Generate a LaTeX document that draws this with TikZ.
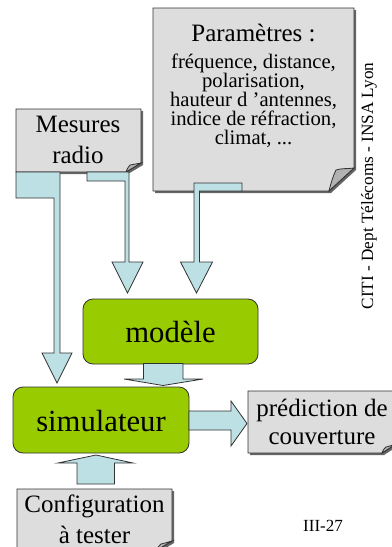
\documentclass[tikz,border=0pt]{standalone}
\usepackage{fontspec}
\setmainfont{Liberation Serif}
\definecolor{notegray}{RGB}{221,221,221}
\definecolor{foldgray}{RGB}{178,178,178}
\definecolor{arrowcyan}{RGB}{188,224,228}
\definecolor{greenbox}{RGB}{153,204,0}
\definecolor{edgec}{RGB}{50,50,50}
\begin{document}
\begin{tikzpicture}[x=0.75pt,y=-0.75pt,
  note/.style={fill=notegray,draw=edgec,line width=0.6pt},
  foldpart/.style={fill=foldgray,draw=edgec,line width=0.6pt},
  noteshadow/.style={fill=black!60,draw=none},
  blockarrow/.style={fill=arrowcyan,draw=edgec,line width=0.6pt,line join=miter},
  gbox/.style={fill=greenbox,draw=edgec,line width=0.6pt,rounded corners=7.5pt,inner sep=0pt},
  bigtxt/.style={font=\fontsize{23}{27}\selectfont},
  medtxt/.style={align=center,font=\fontsize{18.75}{23.25}\selectfont,inner sep=0pt},
  smalltxt/.style={align=center,font=\fontsize{15.5}{14.25}\selectfont,inner sep=0pt}]
\useasboundingbox (0,0) rectangle (392,547);
\clip (0,0) rectangle (392,547);

% ---------- Mesures radio ----------
\fill[noteshadow] (18,111) -- (143,111) -- (143,165) -- (128,174) -- (18,174) -- cycle;
\draw[note] (16,109) -- (141,109) -- (141,163) -- (126,172) -- (16,172) -- cycle;
\draw[foldpart] (141,163) -- (126,172) .. controls (127,169) .. (130,165) .. controls (135,164) .. cycle;
\node[medtxt] (mesures) at (78,139.5) {Mesures\\radio};

% ---------- Parametres ----------
\fill[noteshadow] (155,10) -- (356,10) -- (356,170) -- (331,193) -- (155,193) -- cycle;
\draw[note] (153,8) -- (354,8) -- (354,168) -- (329,191) -- (153,191) -- cycle;
\draw[foldpart] (354,168) -- (329,191) .. controls (331,183) and (333,176) .. (336,170) .. controls (342,168) and (348,169) .. cycle;
\node[medtxt] (parhead) at (253.5,33) {Paramètres :};
\node[smalltxt] (parbody) at (253.5,100.5) {fréquence, distance,\\polarisation,\\hauteur d ’antennes,\\indice de réfraction,\\climat, ...};

% ---------- arrows from top notes ----------
\draw[blockarrow] (16,172) -- (60,172) -- (60,353) -- (72,353) -- (57,383) -- (42,353) -- (54,353) -- (54,198) -- (16,198) -- cycle;
\draw[blockarrow] (87,172) -- (129,172) -- (129,262) -- (143,262) -- (127.5,293) -- (112,262) -- (125,262) -- (125,181) -- (87,181) -- cycle;
\draw[blockarrow] (194,183) -- (242,183) -- (242,191) -- (199.5,191) -- (199.5,262) -- (212.5,262) -- (196.5,293) -- (180.5,262) -- (194,262) -- cycle;

% ---------- modele ----------
\node[gbox,minimum width=131.25pt,minimum height=48.75pt] (modele) at (170.5,331.5) {};
\node[bigtxt] (modeletxt) at (modele.center) {modèle};

% modele -> simulateur
\draw[blockarrow] (143.5,363.5) -- (183,363.5) -- (183,379) -- (203,379) -- (163,385.5) -- (124,379) -- (143.5,379) -- cycle;

% ---------- simulateur ----------
\node[gbox,minimum width=132pt,minimum height=49.5pt] (simul) at (101,420) {};
\node[bigtxt] (simultxt) at (101,421) {simulateur};

% simulateur -> prediction
\draw[blockarrow] (189,411) -- (231,411) -- (231,401) -- (247,423.5) -- (231,446) -- (231,430) -- (189,430) -- cycle;

% ---------- prediction de couverture ----------
\fill[noteshadow] (250,393) -- (398,393) -- (398,446) -- (384,455) -- (250,455) -- cycle;
\draw[note] (248,391) -- (396,391) -- (396,444) -- (382,453) -- (248,453) -- cycle;
\draw[foldpart] (396,444) -- (382,453) .. controls (383,450) .. (386,447) .. controls (390,446) .. cycle;
\node[medtxt,font=\fontsize{18.75}{21}\selectfont] (pred) at (322,422) {prédiction de\\couverture};

% configuration -> simulateur
\draw[blockarrow] (77,484) -- (114.5,484) -- (114.5,463) -- (133,463) -- (96,455) -- (58,463) -- (77,463) -- cycle;

% ---------- Configuration a tester ----------
\fill[noteshadow] (19,491) -- (174,491) -- (174,543) -- (159,552) -- (19,552) -- cycle;
\draw[note] (17,489) -- (172,489) -- (172,541) -- (157,550) -- (17,550) -- cycle;
\draw[foldpart] (172,541) -- (157,550) .. controls (158,547) .. (161,544) .. controls (165,543) .. cycle;
\node[medtxt] (config) at (94.5,519) {Configuration\\à tester};

% ---------- page texts ----------
\node[font=\fontsize{12.75}{15}\selectfont,inner sep=0pt] (pagenum) at (323,526) {III-27};
\node[font=\fontsize{12.9}{15}\selectfont,inner sep=0pt,rotate=90] (footer) at (369,186) {CITI - Dept Télécoms - INSA Lyon};
\end{tikzpicture}
\end{document}
